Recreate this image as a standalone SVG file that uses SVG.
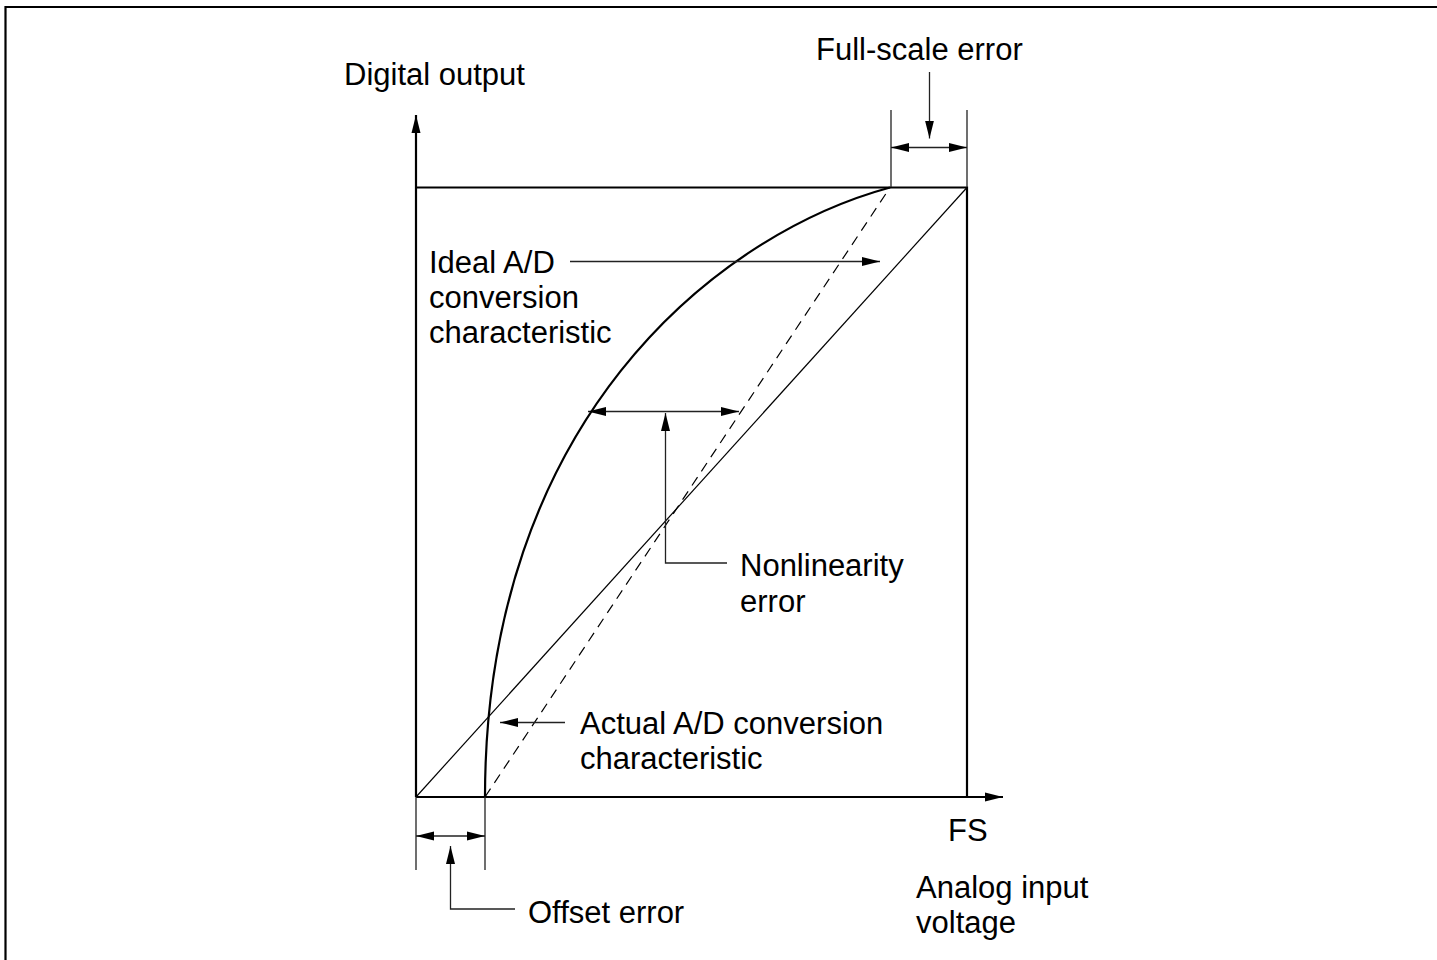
<svg xmlns="http://www.w3.org/2000/svg" width="1437" height="960" viewBox="0 0 1437 960">
<defs>
<style>
text{font-family:"Liberation Sans",Arial,sans-serif;font-size:31px;fill:#000}
.thick{stroke:#000;stroke-width:2.2;fill:none}
.thin{stroke:#000;stroke-width:1.2;fill:none}
.lead{stroke:#222;stroke-width:1.3;fill:none}
.dash{stroke:#000;stroke-width:1.2;fill:none;stroke-dasharray:10 7}
</style>
<marker id="ah" markerWidth="18" markerHeight="10" refX="18" refY="5" orient="auto-start-reverse" markerUnits="userSpaceOnUse">
<path d="M0,0.5 L18,5 L0,9.5 z" fill="#000"/>
</marker>
</defs>
<rect width="1437" height="960" fill="#fff"/>
<g id="frame">
<path d="M5.5,960 V7 H1437" class="thick"/>
</g>
<g id="plot">
<path d="M416,797 V115" class="thick" marker-end="url(#ah)"/>
<path d="M416,797 H1003" class="thick" marker-end="url(#ah)"/>
<path d="M416,187.5 H967 V797" class="thick"/>
<path id="ideal" d="M416,797 L967,187.5" class="thin"/>
<path id="dashed" d="M485,797 L890,187.5" class="dash"/>
<path id="actual" class="thick" d="M485,797 C485,425 712,236 890,187.5"/>
</g>
<g id="connectors">
<path d="M891,187 V110 M967,187 V110" class="lead"/>
<path d="M891,147.5 H967" class="lead" marker-start="url(#ah)" marker-end="url(#ah)"/>
<path d="M929.5,72 V138.5" class="lead" marker-end="url(#ah)"/>
<path d="M416,797 V870 M485,797 V870" class="lead"/>
<path d="M416,836 H485" class="lead" marker-start="url(#ah)" marker-end="url(#ah)"/>
<path d="M515,909 H450.5 V846" class="lead" marker-end="url(#ah)"/>
<path d="M588,411.5 H739" class="lead" marker-start="url(#ah)" marker-end="url(#ah)"/>
<path d="M727,563 H665.5 V413" class="lead" marker-end="url(#ah)"/>
<path d="M570,261.5 H880" class="lead" marker-end="url(#ah)"/>
<path d="M565,722.5 H500" class="lead" marker-end="url(#ah)"/>
</g>
<g id="labels">
<text x="344" y="85">Digital output</text>
<text x="816" y="60">Full-scale error</text>
<text x="429" y="273">Ideal A/D</text>
<text x="429" y="308">conversion</text>
<text x="429" y="343">characteristic</text>
<text x="740" y="576">Nonlinearity</text>
<text x="740" y="612">error</text>
<text x="580" y="734">Actual A/D conversion</text>
<text x="580" y="769">characteristic</text>
<text x="948" y="841">FS</text>
<text x="528" y="923">Offset error</text>
<text x="916" y="898">Analog input</text>
<text x="916" y="933">voltage</text>
</g>
</svg>
